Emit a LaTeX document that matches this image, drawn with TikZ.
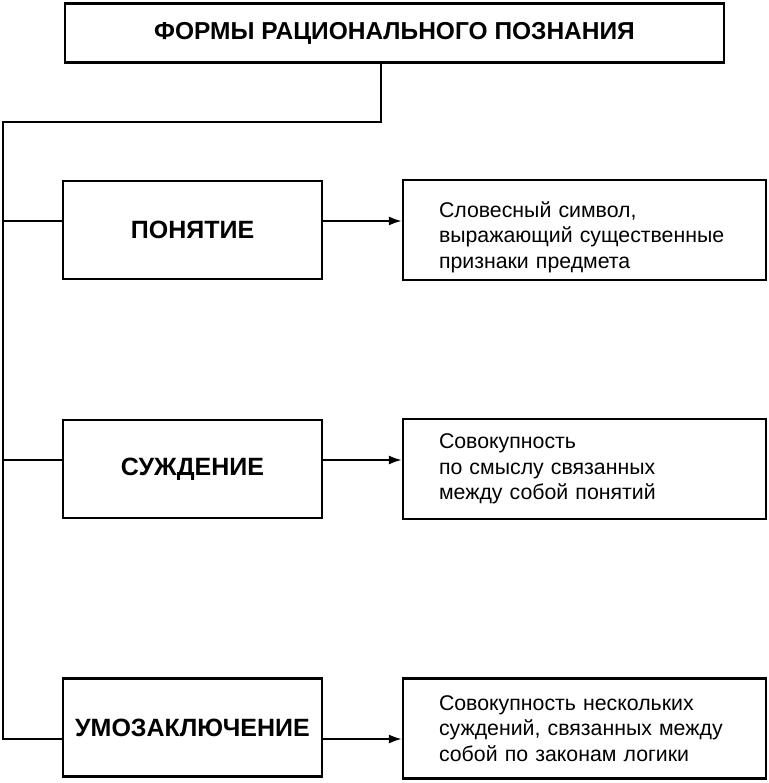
\documentclass[tikz,border=0pt]{standalone}
\usepackage{fontspec}
\setmainfont{Liberation Sans}
\usetikzlibrary{arrows.meta}

\tikzset{
  formbox/.style={draw,line width=2.2pt,inner sep=0pt,minimum width=259pt,minimum height=98pt,font=\fontsize{25}{29}\selectfont\bfseries},
  descbox/.style={draw,line width=2.2pt,inner xsep=36pt,inner ysep=0pt,text width=291pt,minimum height=100pt,align=left,font=\fontsize{21.3}{25.5}\selectfont},
  link/.style={line width=2.2pt},
  arr/.style={line width=2.2pt,-{Latex[length=13pt,width=9pt]}}
}

\begin{document}
\begin{tikzpicture}[x=1pt,y=-1pt]
  \useasboundingbox (0,0) rectangle (768,783);

  \node[draw,line width=2.2pt,minimum width=659pt,minimum height=59pt,inner sep=0pt,
        font=\fontsize{24.5}{28}\selectfont\bfseries] (Forms) at (394.5,33) {ФОРМЫ РАЦИОНАЛЬНОГО ПОЗНАНИЯ};

  \node[formbox] (Concept) at (192.5,230) {ПОНЯТИЕ};
  \node[formbox] (Judgement) at (192.5,469) {СУЖДЕНИЕ};
  \node[formbox] (Inference) at (192.5,727.5) {УМОЗАКЛЮЧЕНИЕ};

  \node[descbox] (ConceptText) at (584.5,230) {\rule{0pt}{30pt}Словесный символ,\\выражающий существенные\\признаки предмета};
  \node[descbox] (JudgementText) at (584.5,469) {Совокупность\\по смыслу связанных\\между собой понятий};
  \node[descbox] (InferenceText) at (584.5,728.5) {Совокупность нескольких\\суждений, связанных между\\собой по законам логики};

  \coordinate (TrunkTop) at (3,122);
  \coordinate (TrunkBottom) at (3,739);

  \draw[link] (Forms.south -| 381,0) |- (TrunkTop) -- (TrunkBottom) -- (TrunkBottom -| Inference.west);
  \draw[link] (TrunkTop |- 0,221) -- (Concept.west |- 0,221);
  \draw[link] (TrunkTop |- 0,460) -- (Judgement.west |- 0,460);

  \draw[arr] (Concept.east |- 0,221) -- (ConceptText.west |- 0,221);
  \draw[arr] (Judgement.east |- 0,460) -- (JudgementText.west |- 0,460);
  \draw[arr] (Inference.east |- 0,739) -- (InferenceText.west |- 0,739);
\end{tikzpicture}
\end{document}
